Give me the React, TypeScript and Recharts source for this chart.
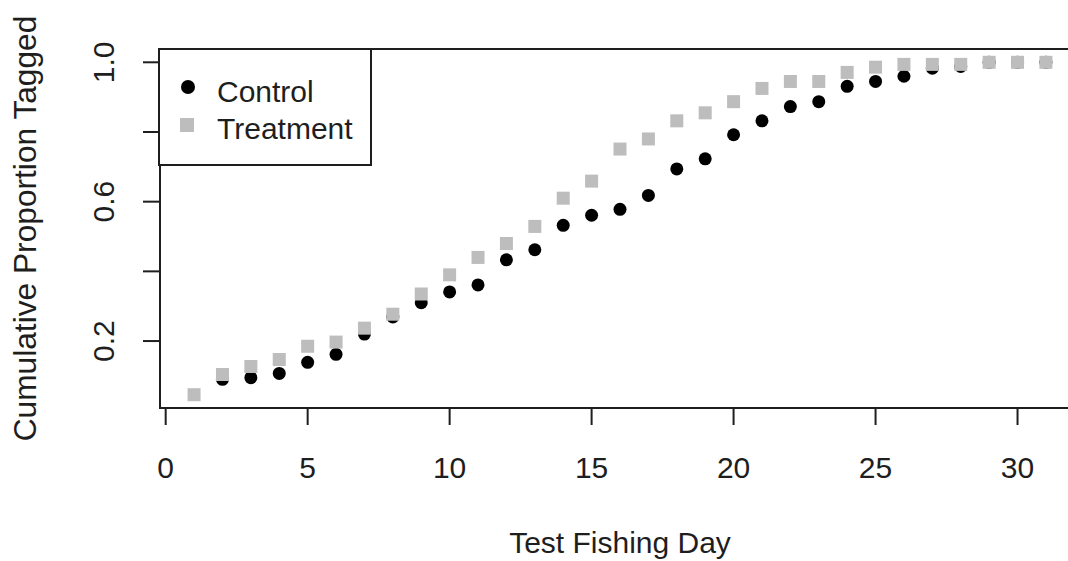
import { Legend, ReferenceArea, Scatter, ScatterChart, XAxis, YAxis } from "recharts";

// days 1..31; control has no visible point on day 1
const days = [1, 2, 3, 4, 5, 6, 7, 8, 9, 10, 11, 12, 13, 14, 15, 16, 17, 18, 19, 20, 21, 22, 23, 24, 25, 26, 27, 28, 29, 30, 31];
const controlValues: (number | null)[] = [
  null, 0.09, 0.095, 0.107, 0.139, 0.162, 0.22, 0.269, 0.31, 0.341, 0.361, 0.433, 0.462, 0.532, 0.561,
  0.578, 0.618, 0.694, 0.723, 0.792, 0.832, 0.873, 0.887, 0.931, 0.945, 0.96, 0.983, 0.988, 1.0, 1.0, 1.0,
];
const treatmentValues: number[] = [
  0.046, 0.104, 0.127, 0.147, 0.185, 0.197, 0.237, 0.277, 0.335, 0.39, 0.44, 0.48, 0.529, 0.61, 0.659,
  0.751, 0.78, 0.832, 0.855, 0.887, 0.925, 0.945, 0.945, 0.971, 0.986, 0.994, 0.994, 0.994, 1.0, 1.0, 1.0,
];
const xTicks = [0, 5, 10, 15, 20, 25, 30];
const yTicks = [0.2, 0.4, 0.6, 0.8, 1.0];
const yTickLabels: Record<string, string> = { "0.2": "0.2", "0.6": "0.6", "1": "1.0" };

const FONT = "'Liberation Sans', Arial, sans-serif";
const INK = "#1e1e1e";
const GREY = "#bdbdbd";

const controlData = days
  .map((day, i) => ({ day, value: controlValues[i] }))
  .filter((d) => d.value !== null);
const treatmentData = days.map((day, i) => ({ day, value: treatmentValues[i] }));

// R-style 4% padding on each side
function padded(vals: number[]): [number, number] {
  const lo = Math.min(...vals);
  const hi = Math.max(...vals);
  const pad = (hi - lo) * 0.04;
  return [lo - pad, hi + pad];
}
const xDomain = padded(days);
const yDomain = padded([...treatmentValues, ...(controlValues.filter((v) => v !== null) as number[])]);

function XTick({ x, y, payload }: any) {
  return (
    <text x={x} y={y + 53} textAnchor="middle" fontSize={30} fontFamily={FONT} fill={INK}>
      {payload.value}
    </text>
  );
}

function YTick({ x, y, payload }: any) {
  const label = yTickLabels[String(payload.value)];
  if (!label) return null;
  const tx = x - 29;
  return (
    <text
      x={tx}
      y={y}
      textAnchor="middle"
      fontSize={30}
      fontFamily={FONT}
      fill={INK}
      transform={`rotate(-90, ${tx}, ${y})`}
    >
      {label}
    </text>
  );
}

function LegendBox() {
  return (
    <svg width={214} height={118} style={{ display: "block" }}>
      <rect x={1} y={1} width={212} height={116} fill="#fff" stroke={INK} strokeWidth={2} />
      <circle cx={30} cy={39} r={7} fill="#000" />
      <rect x={22} y={70} width={14} height={14} fill={GREY} />
      <text x={59} y={54} fontSize={30} fontFamily={FONT} fill={INK}>
        Control
      </text>
      <text x={59} y={91} fontSize={30} fontFamily={FONT} fill={INK}>
        Treatment
      </text>
    </svg>
  );
}

export default function App() {
  return (
    <div
      style={{
        position: "fixed",
        left: 0,
        top: 0,
        width: 1068,
        height: 561,
        overflow: "hidden",
        background: "#fff",
      }}
    >
      <ScatterChart width={1100} height={561} margin={{ top: 49, right: 20, bottom: 0, left: 0 }}>
        <XAxis
          type="number"
          dataKey="day"
          domain={xDomain}
          allowDataOverflow
          ticks={xTicks}
          interval={0}
          height={153}
          axisLine={false}
          tickSize={17}
          tickMargin={0}
          tickLine={{ stroke: INK, strokeWidth: 2 }}
          tick={<XTick />}
          label={{
            content: (props: any) => {
              const vb = props.viewBox;
              return (
                <text
                  x={vb.x + vb.width / 2}
                  y={vb.y + 145}
                  textAnchor="middle"
                  fontSize={30}
                  fontFamily={FONT}
                  fill={INK}
                >
                  Test Fishing Day
                </text>
              );
            },
          }}
        />
        <YAxis
          type="number"
          dataKey="value"
          domain={yDomain}
          allowDataOverflow
          ticks={yTicks}
          interval={0}
          width={160}
          axisLine={false}
          tickSize={17}
          tickMargin={0}
          tickLine={{ stroke: INK, strokeWidth: 2 }}
          tick={<YTick />}
          label={{
            content: (props: any) => {
              const vb = props.viewBox;
              const tx = 36;
              const ty = vb.y + vb.height / 2;
              return (
                <text
                  x={tx}
                  y={ty}
                  textAnchor="middle"
                  fontSize={31.7}
                  fontFamily={FONT}
                  fill={INK}
                  transform={`rotate(-90, ${tx}, ${ty})`}
                >
                  Cumulative Proportion Tagged
                </text>
              );
            },
          }}
        />
        <ReferenceArea
          x1={xDomain[0]}
          x2={xDomain[1]}
          y1={yDomain[0]}
          y2={yDomain[1]}
          fill="none"
          stroke={INK}
          strokeWidth={2}
          ifOverflow="visible"
        />
        <Scatter
          name="Control"
          data={controlData}
          fill="#000"
          isAnimationActive={false}
          shape={(p: any) => <circle cx={p.cx} cy={p.cy} r={6.5} fill="#000" />}
        />
        <Scatter
          name="Treatment"
          data={treatmentData}
          fill={GREY}
          isAnimationActive={false}
          shape={(p: any) => <rect x={p.cx - 6.5} y={p.cy - 6.5} width={13} height={13} fill={GREY} />}
        />
        <Legend
          layout="vertical"
          align="center"
          verticalAlign="middle"
          wrapperStyle={{ left: 158, top: 48, width: 214, height: 118 }}
          content={() => <LegendBox />}
        />
      </ScatterChart>
    </div>
  );
}
